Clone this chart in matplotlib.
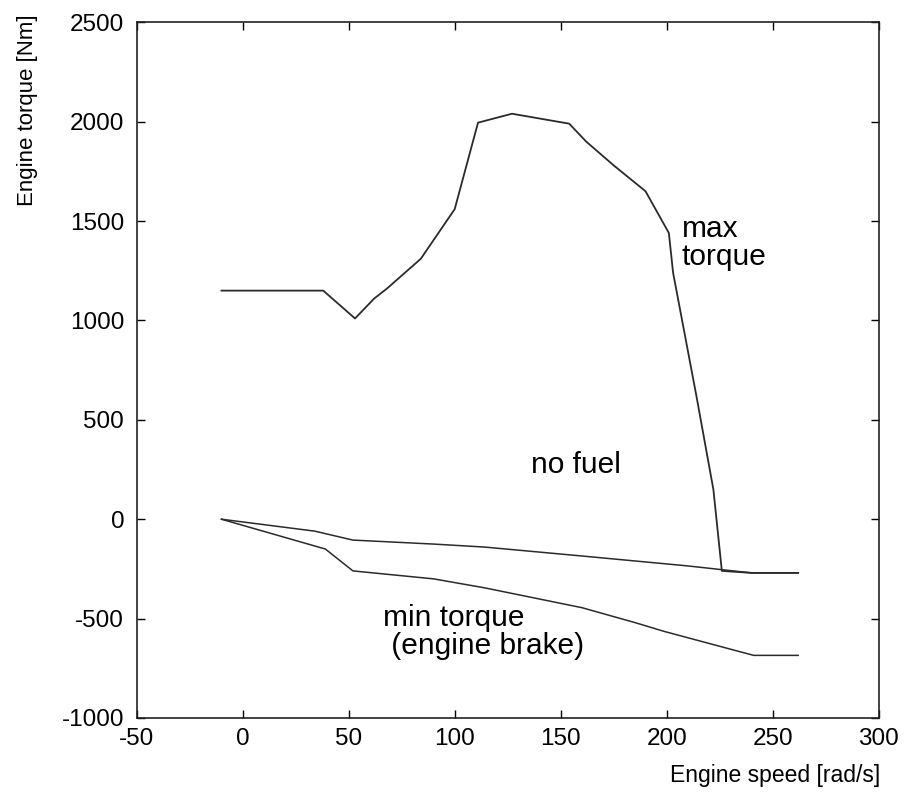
import matplotlib
matplotlib.use("Agg")
import matplotlib.pyplot as plt

plt.rcParams['font.family'] = ['Liberation Sans', 'DejaVu Sans']
plt.rcParams['axes.unicode_minus'] = False

# engine speed [rad/s] / torque [Nm]
max_speed = [-10, 38, 53, 62, 68, 84, 100, 111, 127, 154, 162, 175, 190, 201, 203, 214, 222, 226, 240, 262]
max_torque = [1150, 1150, 1010, 1110, 1160, 1310, 1560, 1995, 2040, 1990, 1900, 1780, 1650, 1440, 1240, 620, 150, -260, -270, -270]

nofuel_speed = [-10, 34, 52, 90, 114, 160, 190, 210, 227, 240, 262]
nofuel_torque = [0, -60, -105, -125, -140, -185, -215, -235, -255, -270, -270]

min_speed = [-10, 39, 52, 90, 114, 160, 185, 199, 241, 262]
min_torque = [0, -150, -260, -300, -345, -445, -520, -565, -685, -685]

xticks = [-50, 0, 50, 100, 150, 200, 250, 300]
yticks = [-1000, -500, 0, 500, 1000, 1500, 2000, 2500]

fig = plt.figure(figsize=(9.05, 7.96), dpi=100)
ax = fig.add_axes([0.151, 0.098, 0.82, 0.874])

line_col = '#2b2b2b'
ax.plot(max_speed, max_torque, color=line_col, lw=1.3)
ax.plot(nofuel_speed, nofuel_torque, color=line_col, lw=1.1)
ax.plot(min_speed, min_torque, color=line_col, lw=1.1)

ax.set_xlim(-50, 300)
ax.set_ylim(-1000, 2500)
ax.set_xticks(xticks)
ax.set_yticks(yticks)
ax.set_xticklabels([str(t) for t in xticks], fontsize=17.5)
ax.set_yticklabels([str(t) for t in yticks], fontsize=17.5)
ax.tick_params(direction='in', length=6, width=1, top=True, right=True)
ax.tick_params(axis='x', pad=7)
ax.tick_params(axis='y', pad=9)
for s in ax.spines.values():
    s.set_linewidth(1.2)
    s.set_color('#222222')

ax.text(207, 1390, "max\ntorque", fontsize=21.5, ha='left', va='center', linespacing=1.0)
ax.text(157, 272, "no fuel", fontsize=21.5, ha='center', va='center')
ax.text(66, -568, "min torque\n (engine brake)", fontsize=21.5, ha='left', va='center',
        linespacing=1.0)

fig.text(0.973, 0.026, "Engine speed [rad/s]", fontsize=16.5, ha='right', va='center')
fig.text(0.03, 0.982, "Engine torque [Nm]", fontsize=16, ha='center', va='top',
         rotation=90)

plt.savefig("out.png", dpi=100)
plt.close()
